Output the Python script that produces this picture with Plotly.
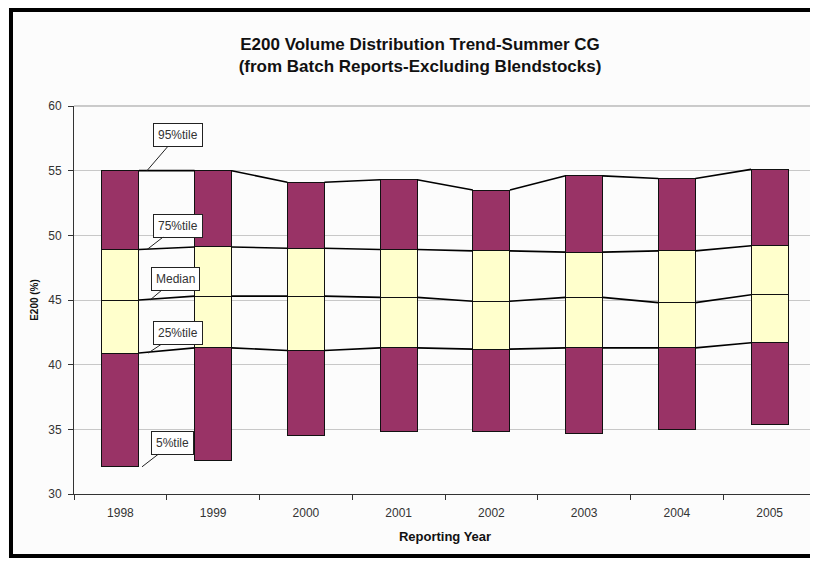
import plotly.graph_objects as go

years = ["1998", "1999", "2000", "2001", "2002", "2003", "2004", "2005"]
p5 = [32.1, 32.6, 34.5, 34.8, 34.8, 34.7, 35.0, 35.4]
p25 = [40.9, 41.3, 41.1, 41.3, 41.2, 41.3, 41.3, 41.7]
p50 = [45.0, 45.3, 45.3, 45.2, 44.9, 45.2, 44.8, 45.4]
p75 = [48.9, 49.1, 49.0, 48.9, 48.8, 48.7, 48.8, 49.2]
p95 = [55.0, 55.0, 54.1, 54.3, 53.5, 54.6, 54.4, 55.1]

PURPLE = "#993366"
YELLOW = "#FFFFCC"
FONT = "Liberation Sans, Arial, sans-serif"
BAR_W = 0.4

# the page body adds an 8px margin, so the figure is shrunk to avoid scrollbars
W, H = 810, 550
# plot area in figure pixels
L, R, T, B = 66, 808, 98, 486

x = list(range(len(years)))


def diff(a, b):
    return [round(v - u, 3) for u, v in zip(a, b)]


def px_x(p):
    return (p - L) / (R - L)


def px_y(p):
    return (B - p) / (B - T)


fig = go.Figure()
# invisible base up to the 5th percentile
fig.add_trace(go.Bar(x=x, y=p5, width=BAR_W, marker=dict(color="rgba(0,0,0,0)", line=dict(width=0)),
                     hoverinfo="skip", showlegend=False))
segments = [
    (diff(p5, p25), PURPLE),
    (diff(p25, p50), YELLOW),
    (diff(p50, p75), YELLOW),
    (diff(p75, p95), PURPLE),
]
for vals, col in segments:
    fig.add_trace(go.Bar(x=x, y=vals, width=BAR_W,
                         marker=dict(color=col, line=dict(color="#111111", width=1)),
                         showlegend=False))

# series lines joining bar edges
for series in (p25, p50, p75, p95):
    lx, ly = [], []
    for i in range(len(years) - 1):
        lx += [x[i] + BAR_W / 2, x[i + 1] - BAR_W / 2, None]
        ly += [series[i], series[i + 1], None]
    fig.add_trace(go.Scatter(x=lx, y=ly, mode="lines", line=dict(color="black", width=1.6),
                             hoverinfo="skip", showlegend=False))

# callout labels on the first year
callouts = [
    ("95%tile", p95[0], 0.287, 31, -36),
    ("75%tile", p75[0], 0.287, 31, -24),
    ("Median", p50[0], 0.32, 25, -21),
    ("25%tile", p25[0], 0.30, 30, -20),
    ("5%tile", p5[0], 0.233, 31, -24),
]
for txt, yv, xv, ax, ay in callouts:
    fig.add_annotation(x=xv, y=yv, text=txt, showarrow=True, arrowhead=0, arrowwidth=1,
                       arrowcolor="#222222", ax=ax, ay=ay, bgcolor="white",
                       bordercolor="#222222", borderwidth=1, borderpad=4,
                       font=dict(family=FONT, size=12, color="#333333"))

fig.update_layout(
    width=W, height=H,
    margin=dict(l=L, r=W - R, t=T, b=H - B),
    paper_bgcolor="#fcfcfc", plot_bgcolor="#fcfcfc",
    barmode="stack", bargap=0.6,
    font=dict(family=FONT, color="#333333"),
    title=dict(text="<b>E200 Volume Distribution Trend-Summer CG<br>(from Batch Reports-Excluding Blendstocks)</b>",
               x=412 / W, xref="container", xanchor="center",
               y=1 - 42 / H, yref="container", yanchor="middle",
               font=dict(family=FONT, size=17, color="#111111")),
    xaxis=dict(range=[-0.5, 7.5], tickmode="array", tickvals=x, ticktext=years, ticks="",
               showgrid=False, zeroline=False, showline=True, linecolor="#333333", linewidth=1,
               tickfont=dict(size=12, color="#333333"), ticklabelstandoff=8, automargin=False,
               minor=dict(tickmode="array", tickvals=[i - 0.5 for i in range(len(years) + 1)],
                          ticks="outside", ticklen=5, tickcolor="#333333", showgrid=False),
               title=dict(text="<b>Reporting Year</b>", font=dict(size=13, color="#111111"), standoff=12)),
    yaxis=dict(range=[30, 60], dtick=5, tick0=30, ticks="outside", ticklen=5, tickcolor="#333333",
               showgrid=True, gridcolor="#c8c8c8", gridwidth=1, zeroline=False,
               showline=True, linecolor="#333333", linewidth=1,
               tickfont=dict(size=12, color="#333333"), ticklabelstandoff=4, automargin=False,
               title=dict(text="<b>E200 (%)</b>", font=dict(size=10, color="#111111"), standoff=7)),
)

# grey plot border on top and right
fig.add_shape(type="line", xref="paper", yref="paper", x0=0, x1=1, y0=1, y1=1,
              line=dict(color="#999999", width=1))
fig.add_shape(type="line", xref="paper", yref="paper", x0=1, x1=1, y0=0, y1=1,
              line=dict(color="#999999", width=1))
# black frame: left, top and bottom edges only (right side is cut off in the original)
frame = dict(color="black", width=4)
fig.add_shape(type="line", xref="paper", yref="paper", x0=px_x(3), x1=px_x(3),
              y0=px_y(H), y1=px_y(0), line=frame)
fig.add_shape(type="line", xref="paper", yref="paper", x0=px_x(1), x1=px_x(W),
              y0=px_y(2), y1=px_y(2), line=frame)
fig.add_shape(type="line", xref="paper", yref="paper", x0=px_x(1), x1=px_x(W),
              y0=px_y(H - 2), y1=px_y(H - 2), line=frame)

fig.write_html("out.html")
